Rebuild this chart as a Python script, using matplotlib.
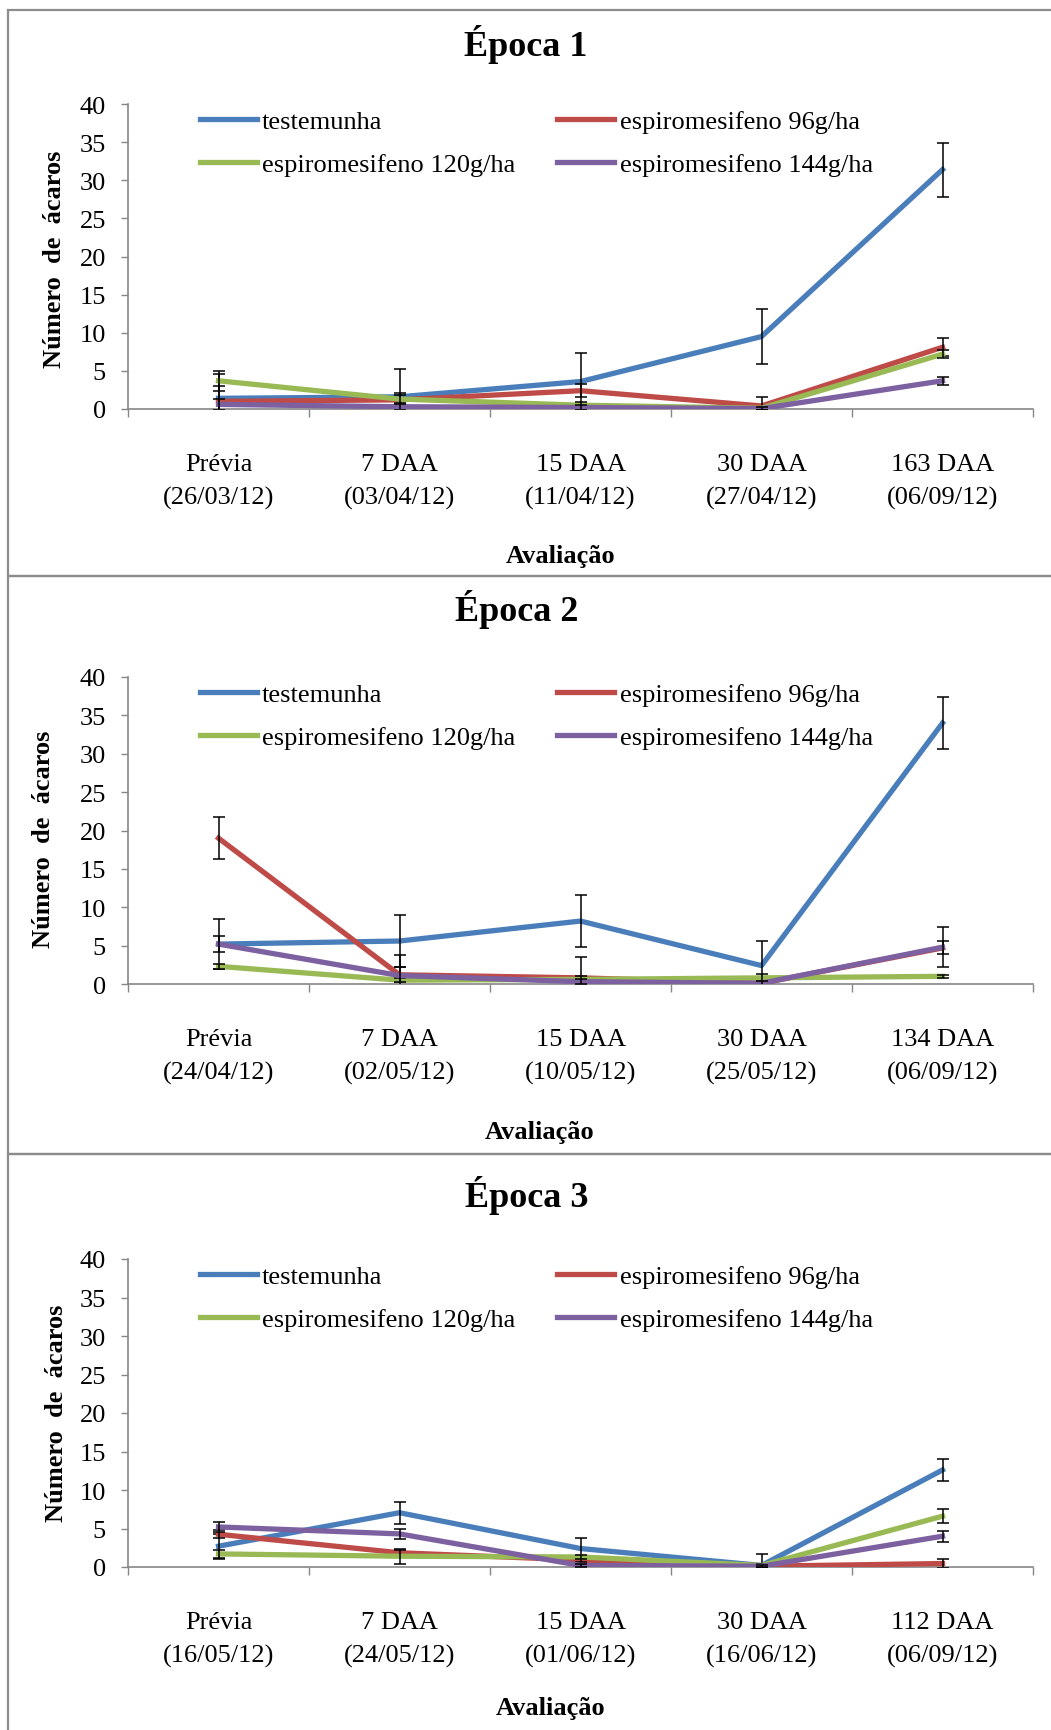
import numpy as np
import matplotlib
matplotlib.use("Agg")
from matplotlib import pyplot as plt
from matplotlib.patches import Rectangle

plt.rcParams['font.family'] = ['Liberation Serif', 'DejaVu Serif']

# tratamentos e cores das linhas
tratamentos = ['testemunha', 'espiromesifeno 96g/ha',
               'espiromesifeno 120g/ha', 'espiromesifeno 144g/ha']
cores = ['#4A7EBB', '#BE4B48', '#98B954', '#7D60A0']
titulos = ['Época 1', 'Época 2', 'Época 3']
yticks = [0, 5, 10, 15, 20, 25, 30, 35, 40]

# Epoca 1
rotulos1 = ['Prévia\n(26/03/12)', '7 DAA\n(03/04/12)', '15 DAA\n(11/04/12)',
            '30 DAA\n(27/04/12)', '163 DAA\n(06/09/12)']
testemunha1 = [1.4, 1.6, 3.6, 9.5, 31.4]
esp96_1 = [1.0, 1.2, 2.4, 0.4, 8.1]
esp120_1 = [3.7, 1.3, 0.5, 0.1, 7.2]
esp144_1 = [0.6, 0.3, 0.2, 0.05, 3.7]
erro_test1 = [3.2, 3.7, 3.7, 3.6, 3.55]
erro_96_1 = [2.0, 0.9, 0.85, 1.2, 1.15]
erro_120_1 = [1.3, 0.5, 0.4, 0.2, 0.5]
erro_144_1 = [0.7, 0.4, 0.3, 0.2, 0.5]

# Epoca 2
rotulos2 = ['Prévia\n(24/04/12)', '7 DAA\n(02/05/12)', '15 DAA\n(10/05/12)',
            '30 DAA\n(25/05/12)', '134 DAA\n(06/09/12)']
testemunha2 = [5.2, 5.6, 8.2, 2.4, 34.0]
esp96_2 = [19.0, 1.2, 0.8, 0.1, 4.7]
esp120_2 = [2.3, 0.5, 0.6, 0.8, 1.0]
esp144_2 = [5.2, 1.1, 0.3, 0.1, 4.8]
erro_test2 = [3.3, 3.4, 3.4, 3.2, 3.35]
erro_96_2 = [2.7, 1.0, 2.7, 0.3, 0.85]
erro_120_2 = [0.3, 0.3, 0.5, 0.5, 0.2]
erro_144_2 = [1.0, 2.7, 0.3, 0.3, 2.6]

# Epoca 3
rotulos3 = ['Prévia\n(16/05/12)', '7 DAA\n(24/05/12)', '15 DAA\n(01/06/12)',
            '30 DAA\n(16/06/12)', '112 DAA\n(06/09/12)']
testemunha3 = [2.7, 7.05, 2.4, 0.2, 12.6]
esp96_3 = [4.25, 1.85, 0.9, 0.1, 0.45]
esp120_3 = [1.7, 1.4, 1.3, 0.2, 6.6]
esp144_3 = [5.2, 4.3, 0.2, 0.1, 4.0]
erro_test3 = [1.6, 1.45, 1.4, 1.5, 1.4]
erro_96_3 = [0.5, 0.35, 0.3, 0.2, 0.55]
erro_120_3 = [0.5, 1.0, 0.3, 0.2, 0.9]
erro_144_3 = [0.7, 0.7, 0.2, 0.1, 0.7]

epocas = [
    (rotulos1, [testemunha1, esp96_1, esp120_1, esp144_1],
     [erro_test1, erro_96_1, erro_120_1, erro_144_1]),
    (rotulos2, [testemunha2, esp96_2, esp120_2, esp144_2],
     [erro_test2, erro_96_2, erro_120_2, erro_144_2]),
    (rotulos3, [testemunha3, esp96_3, esp120_3, esp144_3],
     [erro_test3, erro_96_3, erro_120_3, erro_144_3]),
]

# posicoes em pixels de cada quadro
W, H = 1051, 1731
layout = [
    dict(caixa=(11, 577), topo=105, base=410, tit=(526, 56), xlab=(561, 557), ylab=(55, 259)),
    dict(caixa=(577, 1155), topo=678, base=985, tit=(517, 621), xlab=(540, 1132), ylab=(44, 839)),
    dict(caixa=(1155, 1745), topo=1260, base=1568, tit=(527, 1207), xlab=(551, 1709), ylab=(57, 1413)),
]
esq, dir_ = 128, 1033
cinza = '#868686'

fig = plt.figure(figsize=(W / 100, H / 100), dpi=100)

for i, (rotulos, series, erros) in enumerate(epocas):
    L = layout[i]
    y0, y1 = L['caixa']
    fig.patches.append(Rectangle((8 / W, 1 - y1 / H), 1.2, (y1 - y0) / H,
                                 transform=fig.transFigure, fill=False,
                                 edgecolor='#8c8c8c', linewidth=1.6, zorder=0))

    ax = fig.add_axes([esq / W, 1 - L['base'] / H, (dir_ - esq) / W,
                       (L['base'] - L['topo']) / H])
    x = np.arange(len(rotulos))
    linhas = []
    for s in range(4):
        ln, = ax.plot(x, series[s], color=cores[s], linewidth=3.8,
                      solid_joinstyle='round', zorder=2 + s)
        ax.errorbar(x, series[s], yerr=erros[s], fmt='none', ecolor='black',
                    elinewidth=1.1, capsize=4.3, capthick=1.1, zorder=2 + s)
        linhas.append(ln)

    ax.set_xlim(-0.5, 4.5)
    ax.set_ylim(0, 40)
    ax.set_yticks(yticks)
    ax.set_xticks(x)
    ax.set_xticklabels(rotulos, linespacing=1.62)
    ax.set_xticks(np.arange(-0.5, 5), minor=True)
    ax.tick_params(axis='x', which='major', length=0, pad=32, labelsize=19)
    ax.tick_params(axis='x', which='minor', length=6, width=1, color=cinza)
    ax.tick_params(axis='y', length=5, width=1, color=cinza, pad=11, labelsize=19)
    for lado in ['top', 'right']:
        ax.spines[lado].set_visible(False)
    for lado in ['left', 'bottom']:
        ax.spines[lado].set_color(cinza)
        ax.spines[lado].set_linewidth(1.2)

    # legenda em duas colunas
    ordem = [0, 2, 1, 3]
    ax.legend([linhas[k] for k in ordem], [tratamentos[k] for k in ordem],
              ncol=2, loc='upper left',
              bbox_to_anchor=((200 - esq) / (dir_ - esq), 1 - 6 / (L['base'] - L['topo'])),
              frameon=False, fontsize=19, handlelength=2.15, handletextpad=0.2,
              columnspacing=1.6, labelspacing=0.74, borderpad=0, borderaxespad=0)

    fig.text(L['tit'][0] / W, 1 - L['tit'][1] / H, titulos[i], fontsize=26,
             fontweight='bold', ha='center', va='baseline')
    fig.text(L['xlab'][0] / W, 1 - L['xlab'][1] / H, 'Avaliação', fontsize=19,
             fontweight='bold', ha='center', va='center')
    fig.text(L['ylab'][0] / W, 1 - L['ylab'][1] / H, 'Número  de  ácaros', fontsize=19,
             fontweight='bold', ha='center', va='center', rotation=90)

fig.savefig('out.png', dpi=100, facecolor='white')
